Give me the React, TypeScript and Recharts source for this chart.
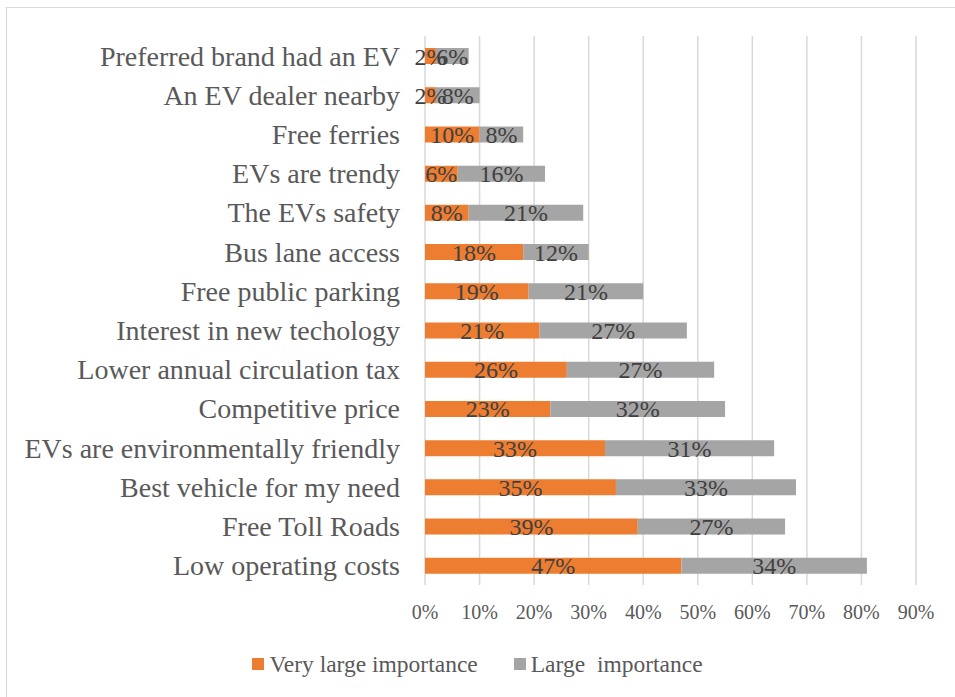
import { BarChart, Bar, XAxis, YAxis, CartesianGrid, Legend, LabelList } from 'recharts'

// top to bottom, as in the picture
const categories = [
  'Preferred brand had an EV',
  'An EV dealer nearby',
  'Free ferries',
  'EVs are trendy',
  'The EVs safety',
  'Bus lane access',
  'Free public parking',
  'Interest in new techology',
  'Lower annual circulation tax',
  'Competitive price',
  'EVs are environmentally friendly',
  'Best vehicle for my need',
  'Free Toll Roads',
  'Low operating costs',
]
const veryLarge = [2, 2, 10, 6, 8, 18, 19, 21, 26, 23, 33, 35, 39, 47]
const large = [6, 8, 8, 16, 21, 12, 21, 27, 27, 32, 31, 33, 27, 34]
const xTicks = [0, 10, 20, 30, 40, 50, 60, 70, 80, 90]

const ORANGE = '#ED7D31'
const GRAY = '#A5A5A5'
const FONT = '"Liberation Serif", "Times New Roman", serif'

const data = categories.map((name, i) => ({ name, veryLarge: veryLarge[i], large: large[i] }))

function LegendBox() {
  const items = [
    { label: 'Very large importance', color: ORANGE },
    { label: 'Large  importance', color: GRAY },
  ]
  return (
    <div style={{ display: 'flex', justifyContent: 'center', alignItems: 'center', height: 30, fontFamily: FONT, fontSize: 23.5, color: '#595959', whiteSpace: 'pre' }}>
      {items.map((it, i) => (
        <div key={i} style={{ display: 'flex', alignItems: 'center', marginRight: i === 0 ? 36 : 0 }}>
          <span style={{ width: 12, height: 12, background: it.color, marginRight: 5, display: 'inline-block' }} />
          <span>{it.label}</span>
        </div>
      ))}
    </div>
  )
}

export default function App() {
  return (
    <div style={{ position: 'absolute', left: 0, top: 0, width: 955, height: 697, overflow: 'hidden', background: '#fff' }}>
      {/* chart frame, only left and top edges are in view */}
      <div style={{ position: 'absolute', left: 6, top: 7, width: 1200, height: 1200, borderLeft: '1.5px solid #D9D9D9', borderTop: '1.5px solid #D9D9D9' }} />
      <div style={{ position: 'absolute', left: 0, top: 0 }}>
        <BarChart
          width={955}
          height={697}
          data={data}
          layout="vertical"
          barSize={16}
          margin={{ top: 36, right: 39, left: 0, bottom: 42 }}
        >
          <CartesianGrid horizontal={false} stroke="#D9D9D9" strokeWidth={1.5} />
          <XAxis
            type="number"
            domain={[0, 90]}
            ticks={xTicks}
            tickFormatter={(v) => `${v}%`}
            axisLine={false}
            tickLine={false}
            height={40}
            tickMargin={14}
            tick={{ fontFamily: FONT, fontSize: 20, fill: '#595959' }}
          />
          <YAxis
            type="category"
            dataKey="name"
            width={425}
            axisLine={false}
            tickLine={false}
            tickMargin={19}
            interval={0}
            tick={{ fontFamily: FONT, fontSize: 28, fill: '#595959' }}
          />
          <Legend wrapperStyle={{ top: 649, left: 0, width: 955 }} content={() => <LegendBox />} />
          <Bar dataKey="veryLarge" stackId="a" fill={ORANGE} isAnimationActive={false}>
            <LabelList dataKey="veryLarge" position="center" formatter={(v: number) => `${v}%`} style={{ fontFamily: FONT, fontSize: 24, fill: '#404040' }} />
          </Bar>
          <Bar dataKey="large" stackId="a" fill={GRAY} isAnimationActive={false}>
            <LabelList dataKey="large" position="center" formatter={(v: number) => `${v}%`} style={{ fontFamily: FONT, fontSize: 24, fill: '#404040' }} />
          </Bar>
        </BarChart>
      </div>
    </div>
  )
}
